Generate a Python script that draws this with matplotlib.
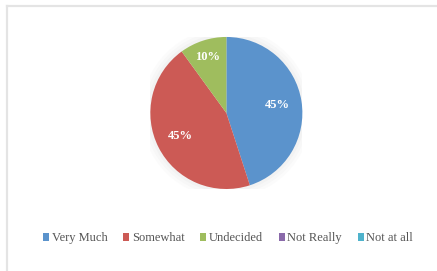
import numpy as np
import matplotlib.pyplot as plt
from matplotlib.lines import Line2D
from matplotlib.patches import Circle

labels = ['Very Much', 'Somewhat', 'Undecided', 'Not Really', 'Not at all']
values = [45, 45, 10, 0, 0]
colors = ['#5b93cc', '#cc5a55', '#9fbd5e', '#8a6aaa', '#4fb3cc']

fig = plt.figure(figsize=(4.37, 2.71), dpi=100)
fig.patch.set_facecolor('white')

# light frame on top and left
fig.add_artist(Line2D([0.016, 1.0], [0.978, 0.978], color='#e4e4e4', lw=1.6))
fig.add_artist(Line2D([0.016, 0.016], [0.0, 0.978], color='#e4e4e4', lw=1.6))

ax = fig.add_axes([0.344, 0.3026, 0.348, 0.561])


def pct(p):
    return '%d%%' % round(p) if p > 0.5 else ''


# soft glow behind the pie
for r, a in [(1.12, 0.03), (1.08, 0.04), (1.04, 0.05)]:
    ax.add_patch(Circle((0, 0), r, color='#999999', alpha=a, lw=0, zorder=0))

wedges, texts, autotexts = ax.pie(values, colors=colors, startangle=90,
                                  counterclock=False, autopct=pct,
                                  pctdistance=0.68,
                                  textprops=dict(color='white', fontsize=9,
                                                 fontweight='bold',
                                                 family='Liberation Serif'))
# small slice label sits further out
w = wedges[2]
mid = np.deg2rad((w.theta1 + w.theta2) / 2)
autotexts[2].set_position((0.78 * np.cos(mid), 0.78 * np.sin(mid)))

ax.set_xlim(-1, 1)
ax.set_ylim(-1, 1)
ax.set_aspect('equal')
ax.set_clip_on(False)

fig.legend(wedges, labels, loc='center', bbox_to_anchor=(0.522, 0.12), ncol=5,
           frameon=False, handlelength=0.5, handleheight=0.5,
           handletextpad=0.2, columnspacing=1.25,
           prop=dict(family='Liberation Serif', size=9), labelcolor='#555555')

plt.savefig('out.png', dpi=100)
